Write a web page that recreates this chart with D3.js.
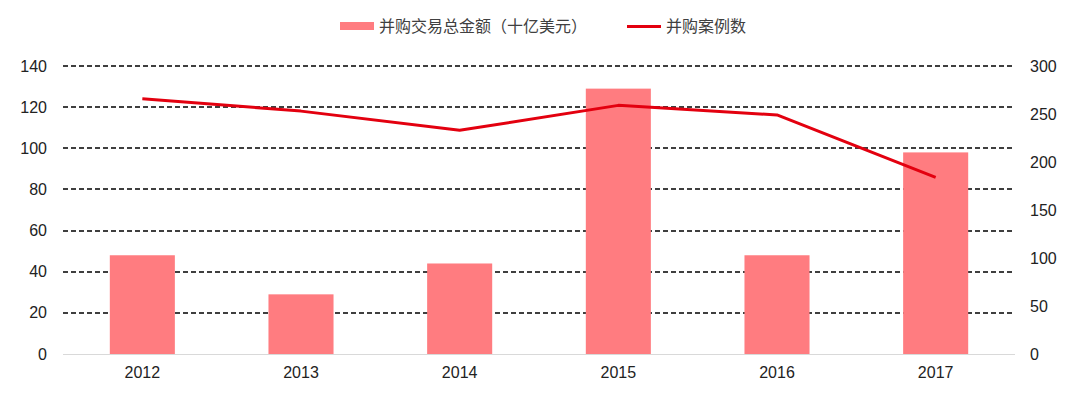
<!DOCTYPE html>
<html><head><meta charset="utf-8">
<script src="https://cdn.jsdelivr.net/npm/d3@7/dist/d3.min.js"></script>
<style>body{margin:0;background:#fff}svg{display:block}</style>
</head><body>
<svg id="c" width="1080" height="394"></svg>
<script>
const years = ["2012","2013","2014","2015","2016","2017"];
const dealValue = [48, 29, 44, 129, 48, 98];
const dealCount = [266, 253, 233, 259, 249, 184];
const leftTicks = [0,20,40,60,80,100,120,140];
const rightTicks = [0,50,100,150,200,250,300];
const seriesNames = ["并购交易总金额（十亿美元）","并购案例数"];

const svg = d3.select("#c");
const L = 63, R = 1015, T = 66, B = 354;
const x = d3.scaleBand().domain(years).range([L, R]).paddingInner(0.59).paddingOuter(0.295);
const yL = d3.scaleLinear().domain([0,140]).range([B, T]);
const yR = d3.scaleLinear().domain([0,300]).range([B, T]);
const font = "'Liberation Sans', Arial, sans-serif";

// gridlines
svg.append("g").selectAll("line").data(leftTicks.filter(d=>d>0)).join("line")
  .attr("x1", L).attr("x2", R).attr("y1", d=>Math.round(yL(d))).attr("y2", d=>Math.round(yL(d)))
  .attr("stroke", "#000").attr("stroke-width", 1.5).attr("stroke-dasharray", "5,3");

// bars
svg.append("g").selectAll("rect").data(years).join("rect")
  .attr("x", d=>x(d)).attr("width", x.bandwidth())
  .attr("y", (d,i)=>yL(dealValue[i])).attr("height", (d,i)=>B - yL(dealValue[i]))
  .attr("fill", "#FF7C80");

// baseline
svg.append("line").attr("x1", L).attr("x2", R).attr("y1", B+0.5).attr("y2", B+0.5)
  .attr("stroke", "#d9d9d9").attr("stroke-width", 1);

// line
const line = d3.line().x((d,i)=>x(years[i]) + x.bandwidth()/2).y(d=>yR(d));
svg.append("path").datum(dealCount).attr("d", line)
  .attr("fill", "none").attr("stroke", "#E3000F").attr("stroke-width", 3).attr("stroke-linejoin","round");

// left axis
const axL = d3.axisLeft(yL).tickValues(leftTicks).tickSize(0).tickPadding(0);
const gL = svg.append("g").attr("transform", `translate(47,0)`).call(axL);
gL.select(".domain").remove();
gL.selectAll("text").attr("font-family", font).attr("font-size", 16).attr("fill", "#222");

// right axis
const axR = d3.axisRight(yR).tickValues(rightTicks).tickSize(0).tickPadding(0);
const gR = svg.append("g").attr("transform", `translate(1030,0)`).call(axR);
gR.select(".domain").remove();
gR.selectAll("text").attr("font-family", font).attr("font-size", 16).attr("fill", "#222");

// bottom axis
const axB = d3.axisBottom(x).tickSize(0).tickPadding(0);
const gB = svg.append("g").attr("transform", `translate(0,${B+13})`).call(axB);
gB.select(".domain").remove();
gB.selectAll("text").attr("font-family", font).attr("font-size", 16).attr("fill", "#222");

// legend
const lg = svg.append("g").attr("font-family", "'Noto Sans CJK SC', sans-serif").attr("font-size", 16).attr("fill", "#404040");
lg.append("rect").attr("x", 340).attr("y", 22).attr("width", 34).attr("height", 8).attr("fill", "#FF7C80");
lg.append("text").attr("x", 379).attr("y", 32).text(seriesNames[0]);
lg.append("line").attr("x1", 627).attr("x2", 661).attr("y1", 26.5).attr("y2", 26.5).attr("stroke", "#E3000F").attr("stroke-width", 3);
lg.append("text").attr("x", 666).attr("y", 32).text(seriesNames[1]);
</script>
</body></html>
